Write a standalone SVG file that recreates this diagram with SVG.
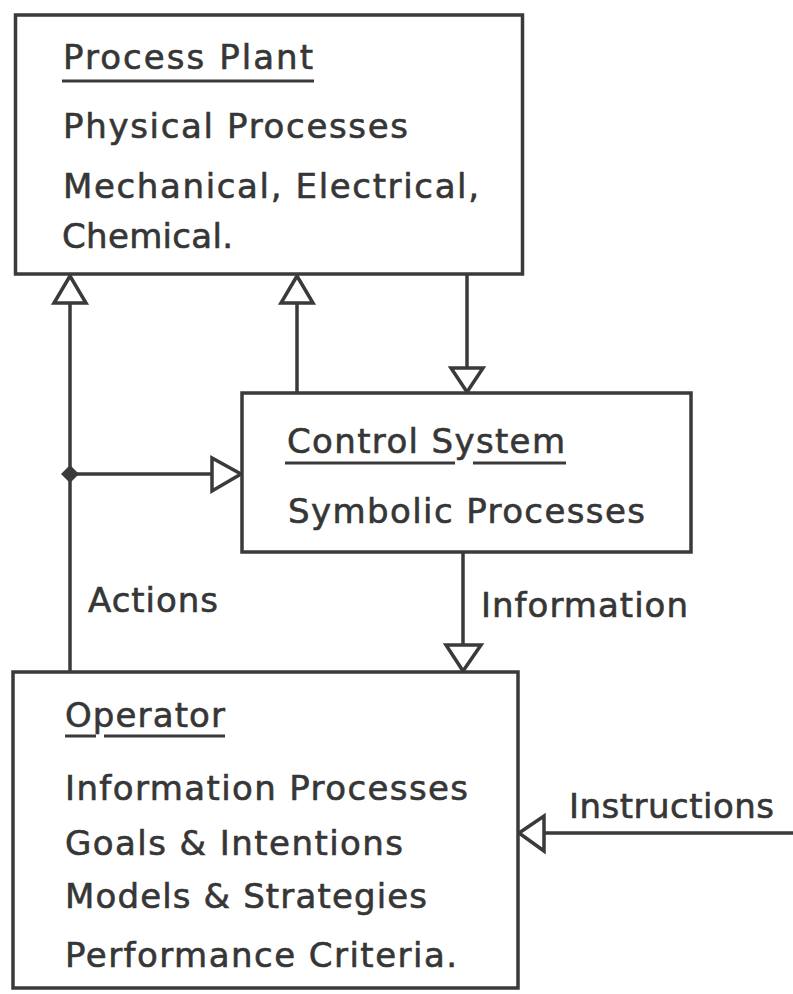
<svg xmlns="http://www.w3.org/2000/svg" width="793" height="994" viewBox="0 0 793 994">
<style>
.box{fill:#fff;stroke:#3a3a3a;stroke-width:3.5}
.ln{fill:none;stroke:#3a3a3a;stroke-width:3.5}
.ah{fill:#fff;stroke:#3a3a3a;stroke-width:3.5;stroke-linejoin:miter}
.ul{stroke:#3a3a3a;stroke-width:3}
text{font-family:"DejaVu Sans","Liberation Sans",Arial,sans-serif;font-size:34px;fill:#363636;stroke:#363636;stroke-width:0.6}
</style>
<rect width="793" height="994" fill="#fff"/>
<g id="connectors">
<line class="ln" x1="70" y1="303" x2="70" y2="672"/>
<line class="ln" x1="297" y1="303" x2="297" y2="393"/>
<line class="ln" x1="467" y1="274" x2="467" y2="368"/>
<line class="ln" x1="70" y1="474" x2="212" y2="474"/>
<line class="ln" x1="463" y1="552" x2="463" y2="645"/>
<line class="ln" x1="544" y1="833" x2="793" y2="833"/>
<polygon class="ah" points="70,276 54,303 86,303"/>
<polygon class="ah" points="297,276 281,303 313,303"/>
<polygon class="ah" points="467,392 451,368 483,368"/>
<polygon class="ah" points="241,474 212,458 212,491"/>
<polygon class="ah" points="463,671 446,645 481,645"/>
<polygon class="ah" points="519,833 544,816 544,851"/>
<polygon points="70,465 79,474 70,483 61,474" fill="#3a3a3a"/>
<text x="88" y="612" textLength="130" lengthAdjust="spacing">Actions</text>
<text x="481" y="617" textLength="207" lengthAdjust="spacing">Information</text>
<text x="569" y="818" textLength="205" lengthAdjust="spacing">Instructions</text>
</g>
<g id="process-plant">
<rect class="box" x="15.5" y="15" width="507" height="259"/>
<text x="63" y="69" textLength="250" lengthAdjust="spacing">Process Plant</text>
<line class="ul" x1="62" y1="81" x2="314" y2="81"/>
<text x="63" y="138" textLength="345" lengthAdjust="spacing">Physical Processes</text>
<text x="63" y="198" textLength="416" lengthAdjust="spacing">Mechanical, Electrical,</text>
<text x="62" y="248" textLength="171" lengthAdjust="spacing">Chemical.</text>
</g>
<g id="control-system">
<rect class="box" x="242" y="393" width="449" height="159"/>
<text x="287" y="453" textLength="278" lengthAdjust="spacing">Control System</text>
<line class="ul" x1="285" y1="463" x2="455" y2="463"/>
<line class="ul" x1="473" y1="463" x2="566" y2="463"/>
<text x="288" y="523" textLength="357" lengthAdjust="spacing">Symbolic Processes</text>
</g>
<g id="operator">
<rect class="box" x="13" y="672" width="505" height="316"/>
<text x="65" y="727" textLength="160" lengthAdjust="spacing">Operator</text>
<line class="ul" x1="65" y1="736" x2="96" y2="736"/>
<line class="ul" x1="104" y1="736" x2="225" y2="736"/>
<text x="65" y="800" textLength="403" lengthAdjust="spacing">Information Processes</text>
<text x="65" y="855" textLength="338" lengthAdjust="spacing">Goals &amp; Intentions</text>
<text x="65" y="908" textLength="362" lengthAdjust="spacing">Models &amp; Strategies</text>
<text x="65" y="967" textLength="392" lengthAdjust="spacing">Performance Criteria.</text>
</g>
</svg>
